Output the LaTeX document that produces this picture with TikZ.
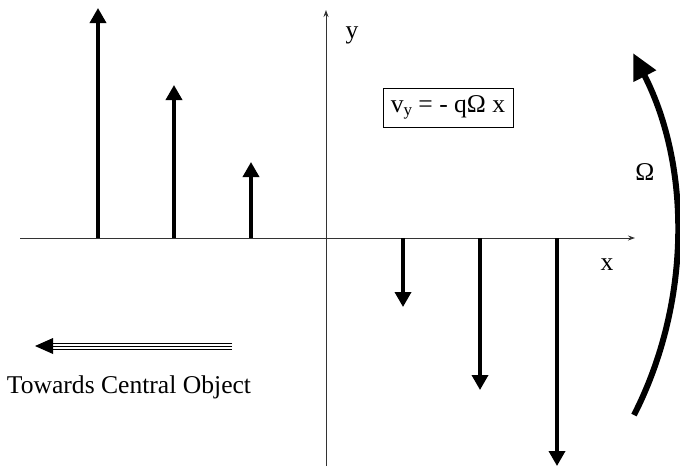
\documentclass[tikz,border=0pt]{standalone}
\usepackage{fontspec}
\setmainfont{Liberation Serif}
\usetikzlibrary{arrows.meta}
\tikzset{
  axis/.style={line width=0.9pt, black!80, -{Stealth[length=7pt,width=5pt]}},
  vel/.style={line width=3.5pt, -{Triangle[length=15pt,width=16pt]}},
  lbl/.style={font=\fontsize{25.6}{30}\selectfont, inner sep=0pt},
}

\begin{document}
\begin{tikzpicture}[x=1pt,y=-1pt]
  \useasboundingbox (0,0) rectangle (680,467);
  % axes
  \coordinate (xl) at (20,238);
  \coordinate (xr) at (635,238);
  \coordinate (yb) at (326,466);
  \coordinate (yt) at (326,10);
  \draw[axis] (xl) -- (xr);
  \draw[axis] (yb) -- (yt);
  \node[lbl] (ylab) at (352,35) {y};
  \node[lbl] (xlab) at (607,265) {x};
  % velocity vectors
  \foreach \x/\tip in {98/8, 174/85, 251/162, 403/307, 480/390, 557/466}
    \draw[vel] (\x,238) -- (\x,\tip);
  \node[lbl, draw, line width=0.9pt, minimum width=130pt, minimum height=39pt] (eq) at (448,107.5) {v\raisebox{-0.3ex}{\fontsize{17}{20}\selectfont y} = - qΩ x};
  % rotation
  \coordinate (rotb) at (634,415);
  \coordinate (rott) at (633,53);
  \draw[line width=6pt, -{Triangle[length=26pt,width=24pt]}] (rotb) .. controls (691.7,301.8) and (690.8,165.9) .. (rott);
  \node[lbl] (omega) at (645,172) {Ω};
  % towards central object
  \foreach \dy in {-3,0,3}
    \draw[line width=0.9pt] (232,346+\dy) -- (52,346+\dy);
  \fill (35,346) -- (53,338) -- (53,354) -- cycle;
  \node[lbl] (towards) at (129,387) {Towards Central Object};
\end{tikzpicture}
\end{document}
